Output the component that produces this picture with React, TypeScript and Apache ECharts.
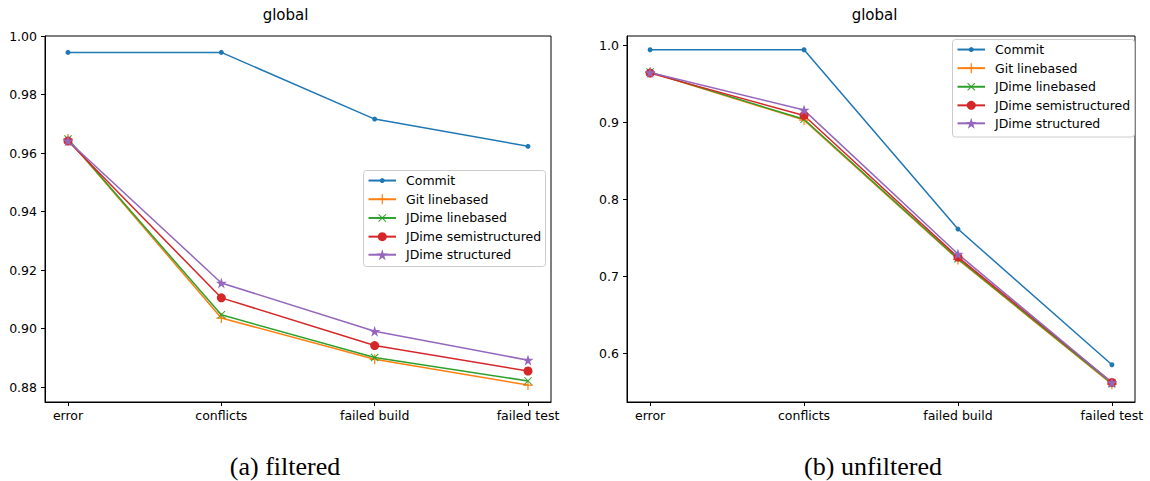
import React, { useEffect, useRef } from "react";
import * as echarts from "echarts";

const categories = ["error", "conflicts", "failed build", "failed test"];
const seriesNames = ["Commit", "Git linebased", "JDime linebased", "JDime semistructured", "JDime structured"];
const colors = ["#1f77b4", "#ff7f0e", "#2ca02c", "#d62728", "#9467bd"];

// (a) filtered
const filteredCommit = [0.9944, 0.9944, 0.9716, 0.9623];
const filteredGitLine = [0.9648, 0.9036, 0.8895, 0.8807];
const filteredJDimeLine = [0.9648, 0.9047, 0.8901, 0.8821];
const filteredJDimeSemi = [0.9641, 0.9105, 0.8942, 0.8855];
const filteredJDimeStruct = [0.9642, 0.9156, 0.8991, 0.8892];

// (b) unfiltered
const unfilteredCommit = [0.9938, 0.9938, 0.761, 0.5848];
const unfilteredGitLine = [0.9645, 0.9025, 0.7215, 0.5595];
const unfilteredJDimeLine = [0.9648, 0.9035, 0.7225, 0.5605];
const unfilteredJDimeSemi = [0.9635, 0.9085, 0.7245, 0.5618];
const unfilteredJDimeStruct = [0.9642, 0.9155, 0.7285, 0.5615];

const filteredTicks = [0.88, 0.9, 0.92, 0.94, 0.96, 0.98, 1.0];
const unfilteredTicks = [0.6, 0.7, 0.8, 0.9, 1.0];

const PLUS = "path://M4.4,0H5.6V4.4H10V5.6H5.6V10H4.4V5.6H0V4.4H4.4Z";
const CROSS = "path://M0,0.85L0.85,0L5,4.15L9.15,0L10,0.85L5.85,5L10,9.15L9.15,10L5,5.85L0.85,10L0,9.15L4.15,5Z";
const STAR = "path://M50,0L61.23,34.55L97.55,34.55L68.16,55.9L79.39,90.45L50,69.1L20.61,90.45L31.84,55.9L2.45,34.55L38.77,34.55Z";

const markers: [string, number][] = [
  ["circle", 5],
  [PLUS, 10],
  [CROSS, 8],
  ["circle", 9],
  [STAR, 11],
];

const FONT = "DejaVu Sans";
const LEGEND_FONT = 12.5;

export default function App() {
  const ref = useRef<HTMLDivElement>(null);
  useEffect(() => {
    document.body.style.margin = "0";
    if (!ref.current) return;
    const chart = echarts.init(ref.current, undefined, { renderer: "svg" });

    const filtered = [filteredCommit, filteredGitLine, filteredJDimeLine, filteredJDimeSemi, filteredJDimeStruct];
    const unfiltered = [unfilteredCommit, unfilteredGitLine, unfilteredJDimeLine, unfilteredJDimeSemi, unfilteredJDimeStruct];

    const mkSeries = (data: number[][], idx: number) =>
      data.map((vals, i) => ({
        type: "line",
        name: seriesNames[i],
        xAxisIndex: idx,
        yAxisIndex: idx,
        data: vals.map((v, j) => [j, v]),
        symbol: markers[i][0],
        symbolSize: markers[i][1],
        showSymbol: true,
        showAllSymbol: true,
        lineStyle: { color: colors[i], width: 1.5 },
        itemStyle: { color: colors[i], borderWidth: 0 },
        emphasis: { disabled: true },
      }));

    const xAxis = (gi: number) => ({
      type: "value",
      gridIndex: gi,
      min: -0.15,
      max: 3.15,
      axisLine: { show: true, onZero: false, lineStyle: { color: "#000", width: 1 } },
      axisTick: { show: true, length: 4, customValues: [0, 1, 2, 3], lineStyle: { color: "#000" } },
      axisLabel: {
        customValues: [0, 1, 2, 3],
        formatter: (v: number) => categories[Math.round(v)] ?? "",
        color: "#000",
        fontFamily: FONT,
        fontSize: 12.5,
        margin: 7,
      },
      splitLine: { show: false },
    });

    const yAxis = (gi: number, min: number, max: number, ticks: number[], dec: number) => ({
      type: "value",
      gridIndex: gi,
      min,
      max,
      axisLine: { show: true, onZero: false, lineStyle: { color: "#000", width: 1 } },
      axisTick: { show: true, length: 4, customValues: ticks, lineStyle: { color: "#000" } },
      axisLabel: {
        customValues: ticks,
        formatter: (v: number) => v.toFixed(dec),
        color: "#000",
        fontFamily: FONT,
        fontSize: 12.5,
        margin: 8,
      },
      splitLine: { show: false },
    });

    // one legend per entry so each marker keeps its own size (icon symbol = 0.8 * itemHeight)
    const legendsFor = (lineLeft: number, firstRowY: number, rowGap: number) =>
      seriesNames.map((name, i) => {
        const h = markers[i][1] / 0.8;
        return {
          orient: "vertical",
          left: lineLeft,
          top: firstRowY + i * rowGap - Math.max(h, LEGEND_FONT) / 2,
          data: [name],
          itemWidth: 27.5,
          itemHeight: h,
          padding: 0,
          selectedMode: false,
          z: 6,
          textStyle: { fontFamily: FONT, fontSize: LEGEND_FONT, color: "#000", padding: [0, 0, 0, 5] },
        };
      });

    const legendBox = (x: number, y: number, w: number, h: number) => ({
      type: "rect",
      z: 5,
      shape: { x, y, width: w, height: h, r: 3 },
      style: { fill: "rgba(255,255,255,0.8)", stroke: "#cccccc", lineWidth: 1 },
    });

    const option: any = {
      animation: false,
      backgroundColor: "#fff",
      grid: [
        { left: 45, top: 36, width: 506, height: 366, show: true, borderColor: "#000", borderWidth: 1, containLabel: false },
        { left: 627, top: 36, width: 508, height: 366, show: true, borderColor: "#000", borderWidth: 1, containLabel: false },
      ],
      xAxis: [xAxis(0), xAxis(1)],
      yAxis: [
        yAxis(0, 0.8749, 1.0, filteredTicks, 2),
        yAxis(1, 0.5364, 1.0117, unfilteredTicks, 1),
      ],
      legend: [...legendsFor(367.5, 180.3, 18.7), ...legendsFor(956.5, 49.3, 18.6)],
      series: [...mkSeries(filtered, 0), ...mkSeries(unfiltered, 1)],
      graphic: [
        legendBox(363.5, 170.5, 182, 96),
        legendBox(952.5, 39.5, 182, 97.5),
        { type: "text", x: 285.5, y: 15, style: { text: "global", fill: "#000", fontFamily: FONT, fontSize: 15, align: "center", verticalAlign: "middle" } },
        { type: "text", x: 874.5, y: 15, style: { text: "global", fill: "#000", fontFamily: FONT, fontSize: 15, align: "center", verticalAlign: "middle" } },
        { type: "text", x: 285, y: 466, style: { text: "(a) filtered", fill: "#000", fontFamily: "Liberation Serif", fontSize: 26, align: "center", verticalAlign: "middle" } },
        { type: "text", x: 873, y: 466, style: { text: "(b) unfiltered", fill: "#000", fontFamily: "Liberation Serif", fontSize: 26, align: "center", verticalAlign: "middle" } },
      ],
    };
    chart.setOption(option);
    return () => chart.dispose();
  }, []);
  return <div ref={ref} style={{ width: 1150, height: 481 }} />;
}
